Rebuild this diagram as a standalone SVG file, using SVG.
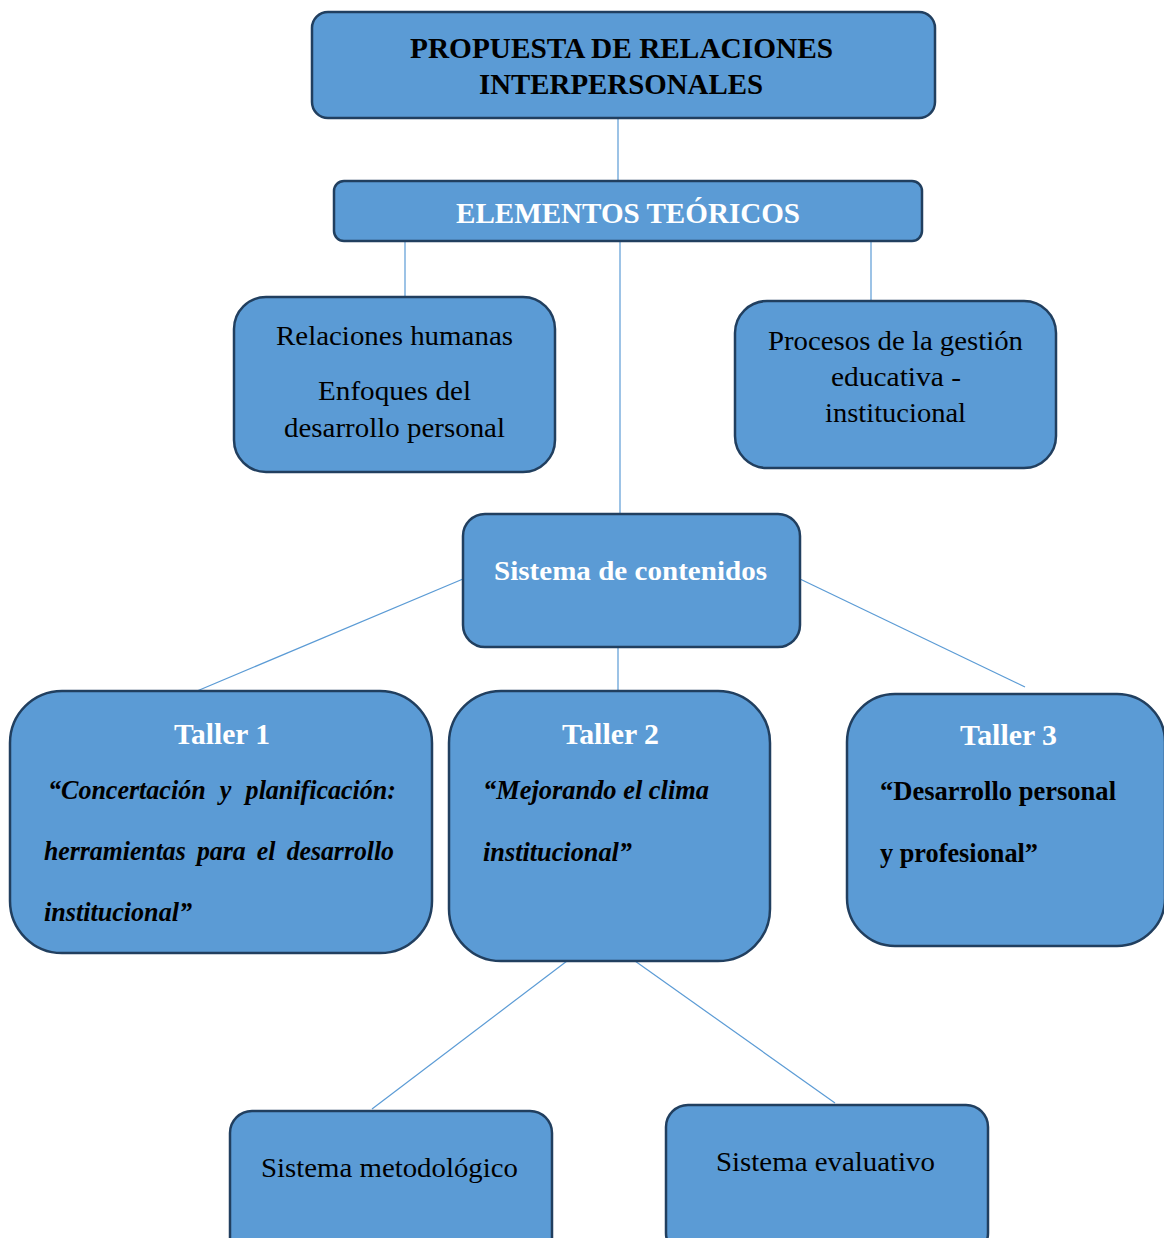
<svg xmlns="http://www.w3.org/2000/svg" width="1164" height="1238" viewBox="0 0 1164 1238">
<style>
.box{fill:#5b9bd5;stroke:#213f5f;stroke-width:2.5}
.con line{stroke:#5b9bd5;stroke-width:1.2}
text{font-family:"Liberation Serif","Times New Roman",Tinos,serif}
.b{font-weight:bold}
.w{fill:#ffffff}
.k{fill:#000000}
.bi{font-weight:bold;font-style:italic}
.r{font-size:28px}
</style>
<rect width="1164" height="1238" fill="#ffffff"/>
<g id="connectors" class="con">
<line x1="618" y1="118" x2="618" y2="181"/>
<line x1="405" y1="241" x2="405" y2="297"/>
<line x1="620" y1="241" x2="620" y2="514"/>
<line x1="871" y1="241" x2="871" y2="301"/>
<line x1="463" y1="579" x2="197" y2="691"/>
<line x1="800" y1="579" x2="1025" y2="687"/>
<line x1="618" y1="647" x2="618" y2="691"/>
<line x1="567" y1="961" x2="372" y2="1109"/>
<line x1="635" y1="961" x2="835" y2="1103"/>
</g>
<g id="propuesta">
<rect class="box" x="312" y="12" width="623" height="106" rx="16"/>
<text class="b k" x="410" y="58" font-size="29" textLength="423" lengthAdjust="spacingAndGlyphs">PROPUESTA DE RELACIONES</text>
<text class="b k" x="479" y="94" font-size="29" textLength="284" lengthAdjust="spacingAndGlyphs">INTERPERSONALES</text>
</g>
<g id="elementos">
<rect class="box" x="334" y="181" width="588" height="60" rx="10"/>
<text class="b w" x="456" y="223" font-size="29" textLength="344" lengthAdjust="spacingAndGlyphs">ELEMENTOS TEÓRICOS</text>
</g>
<g id="relaciones">
<rect class="box" x="234" y="297" width="321" height="175" rx="32"/>
<text class="r k" x="276" y="345" textLength="237" lengthAdjust="spacingAndGlyphs">Relaciones humanas</text>
<text class="r k" x="318" y="400" textLength="153" lengthAdjust="spacingAndGlyphs">Enfoques del</text>
<text class="r k" x="284" y="437" textLength="221" lengthAdjust="spacingAndGlyphs">desarrollo personal</text>
</g>
<g id="procesos">
<rect class="box" x="735" y="301" width="321" height="167" rx="32"/>
<text class="r k" x="768" y="350" textLength="255" lengthAdjust="spacingAndGlyphs">Procesos de la gestión</text>
<text class="r k" x="831" y="386" textLength="130" lengthAdjust="spacingAndGlyphs">educativa -</text>
<text class="r k" x="825" y="422" textLength="141" lengthAdjust="spacingAndGlyphs">institucional</text>
</g>
<g id="sistema-contenidos">
<rect class="box" x="463" y="514" width="337" height="133" rx="22"/>
<text class="b w" x="494" y="580" font-size="28" textLength="273" lengthAdjust="spacingAndGlyphs">Sistema de contenidos</text>
</g>
<g id="taller1">
<rect class="box" x="10" y="691" width="422" height="262" rx="52"/>
<text class="b w" x="174" y="744" font-size="29" textLength="96" lengthAdjust="spacingAndGlyphs">Taller 1</text>
<text class="bi k" x="48" y="799" font-size="27" textLength="348" lengthAdjust="spacingAndGlyphs" word-spacing="8">“Concertación  y  planificación:</text>
<text class="bi k" x="44" y="860" font-size="27" textLength="350" lengthAdjust="spacingAndGlyphs" word-spacing="5">herramientas para el desarrollo</text>
<text class="bi k" x="44" y="921" font-size="27" textLength="148" lengthAdjust="spacingAndGlyphs">institucional”</text>
</g>
<g id="taller2">
<rect class="box" x="449" y="691" width="321" height="270" rx="52"/>
<text class="b w" x="562" y="744" font-size="29" textLength="97" lengthAdjust="spacingAndGlyphs">Taller 2</text>
<text class="bi k" x="483" y="799" font-size="27" textLength="226" lengthAdjust="spacingAndGlyphs">“Mejorando el clima</text>
<text class="bi k" x="483" y="861" font-size="27" textLength="149" lengthAdjust="spacingAndGlyphs">institucional”</text>
</g>
<g id="taller3">
<rect class="box" x="847" y="694" width="318" height="252" rx="48"/>
<text class="b w" x="960" y="745" font-size="29" textLength="97" lengthAdjust="spacingAndGlyphs">Taller 3</text>
<text class="b k" x="880" y="800" font-size="27" textLength="236" lengthAdjust="spacingAndGlyphs">“Desarrollo personal</text>
<text class="b k" x="880" y="862" font-size="27" textLength="158" lengthAdjust="spacingAndGlyphs">y profesional”</text>
</g>
<g id="sistema-metodologico">
<rect class="box" x="230" y="1111" width="322" height="150" rx="22"/>
<text class="r k" x="261" y="1177" textLength="257" lengthAdjust="spacingAndGlyphs">Sistema metodológico</text>
</g>
<g id="sistema-evaluativo">
<rect class="box" x="666" y="1105" width="322" height="150" rx="22"/>
<text class="r k" x="716" y="1171" textLength="219" lengthAdjust="spacingAndGlyphs">Sistema evaluativo</text>
</g>
</svg>
